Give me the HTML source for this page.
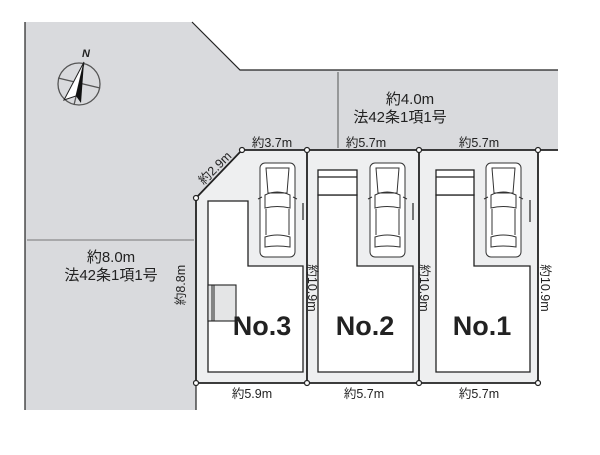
<!DOCTYPE html>
<html><head><meta charset="utf-8"><style>
html,body{margin:0;padding:0;background:#fff;}
svg text{font-family:"Liberation Sans","Noto Sans CJK JP",sans-serif;fill:#222;}
</style></head><body>
<svg width="600" height="450" viewBox="0 0 600 450" xmlns="http://www.w3.org/2000/svg">
<defs>
<g id="car" fill="none" stroke="#333" stroke-width="1">
<rect x="0" y="0" width="35" height="94" rx="5" fill="#fff"/>
<path d="M6 5 L29 5 L27 30 L8 30 Z"/>
<path d="M5 32 Q17 26 30 32 L30 45 Q17 42 5 45 Z"/>
<path d="M6 46 L6 72 M29 46 L29 72"/>
<path d="M5 74 Q17 70 30 74 L30 84 Q17 82 5 84 Z"/>
<path d="M2 34 L-2 36 M33 34 L37 36"/>
</g>
</defs>
<path d="M25 22 L192 22 L240 70 L558 70 L558 150 L242 150 L196 198 L196 410 L25 410 Z" fill="#d9dadd"/>
<path d="M25 22 L25 410 M192 22 L240 70 L558 70" stroke="#222" stroke-width="1.2" fill="none"/>
<line x1="196" y1="383" x2="196" y2="410" stroke="#222" stroke-width="1.2"/>
<path d="M196 198 L242 150 L538 150 L538 383 L196 383 Z" fill="#eeeff0" stroke="#222" stroke-width="1.8"/>
<line x1="538" y1="150" x2="558" y2="150" stroke="#222" stroke-width="1.8"/>
<line x1="307" y1="150" x2="307" y2="383" stroke="#222" stroke-width="1.8"/>
<line x1="419" y1="150" x2="419" y2="383" stroke="#222" stroke-width="1.8"/>
<g fill="#fff" stroke="#222" stroke-width="1.2">
<circle cx="196" cy="198" r="2.5"/><circle cx="242" cy="150" r="2.5"/><circle cx="307" cy="150" r="2.5"/><circle cx="419" cy="150" r="2.5"/><circle cx="538" cy="150" r="2.5"/>
<circle cx="196" cy="383" r="2.5"/><circle cx="307" cy="383" r="2.5"/><circle cx="419" cy="383" r="2.5"/><circle cx="538" cy="383" r="2.5"/>
</g>
<g fill="#fff" stroke="#222" stroke-width="1.3">
<path d="M208 201 L248 201 L248 266 L303 266 L303 372 L208 372 Z"/>
<path d="M318 195 L357 195 L357 266 L413 266 L413 372 L318 372 Z"/>
<path d="M436 195 L474 195 L474 266 L530 266 L530 372 L436 372 Z"/>
<rect x="318" y="170" width="39" height="25"/>
<rect x="436" y="170" width="38" height="25"/>
</g>
<line x1="318" y1="177" x2="357" y2="177" stroke="#222" stroke-width="1.2"/>
<line x1="436" y1="177" x2="474" y2="177" stroke="#222" stroke-width="1.2"/>
<rect x="208" y="285" width="28" height="36" fill="#e4e5e6" stroke="#222" stroke-width="1.1"/>
<line x1="212" y1="285" x2="212" y2="321" stroke="#222"/>
<line x1="214" y1="285" x2="214" y2="321" stroke="#222"/>
<g stroke="#222" stroke-width="1.2"><line x1="303" y1="203" x2="303" y2="220"/><line x1="413" y1="203" x2="413" y2="220"/><line x1="530" y1="200" x2="530" y2="222"/></g>
<use href="#car" x="260" y="163"/>
<use href="#car" x="370" y="163"/>
<use href="#car" x="486" y="163"/>
<g stroke="#555" fill="none" stroke-width="1.3">
<circle cx="79" cy="84" r="21"/>
<line x1="58" y1="78" x2="100" y2="88"/><line x1="84" y1="63" x2="74" y2="105"/>
</g>
<path d="M84 62 L64 100 L76 96 Z" fill="#fff" stroke="#222" stroke-width="1"/>
<path d="M84 62 L76 96 L81 103 Z" fill="#111"/>
<text x="86" y="57" font-family="Liberation Serif" font-style="italic" font-weight="bold" font-size="11" text-anchor="middle">N</text>
<line x1="338" y1="72" x2="338" y2="148" stroke="#333" stroke-width="0.8"/>
<line x1="27" y1="240" x2="194" y2="240" stroke="#555" stroke-width="0.8"/>
<g font-size="15">
<text x="410" y="104" text-anchor="middle">約4.0m</text>
<text x="400" y="122" text-anchor="middle">法42条1項1号</text>
<text x="111" y="262" text-anchor="middle">約8.0m</text>
<text x="111" y="280" text-anchor="middle">法42条1項1号</text>
</g>
<g font-size="12.5">
<text x="272" y="147" text-anchor="middle">約3.7m</text>
<text x="366" y="147" text-anchor="middle">約5.7m</text>
<text x="479" y="147" text-anchor="middle">約5.7m</text>
<text x="252" y="398" text-anchor="middle">約5.9m</text>
<text x="364" y="398" text-anchor="middle">約5.7m</text>
<text x="479" y="398" text-anchor="middle">約5.7m</text>
<text transform="translate(218,171) rotate(-45)" text-anchor="middle">約2.9m</text>
<text transform="translate(185,285) rotate(-90)" text-anchor="middle">約8.8m</text>
<text transform="translate(308,288) rotate(90)" text-anchor="middle">約10.9m</text>
<text transform="translate(420,288) rotate(90)" text-anchor="middle">約10.9m</text>
<text transform="translate(541,288) rotate(90)" text-anchor="middle">約10.9m</text>
</g>
<g font-size="27" font-weight="bold" fill="#111">
<text x="262" y="335" text-anchor="middle">No.3</text>
<text x="365" y="335" text-anchor="middle">No.2</text>
<text x="482" y="335" text-anchor="middle">No.1</text>
</g>
</svg>
</body></html>
